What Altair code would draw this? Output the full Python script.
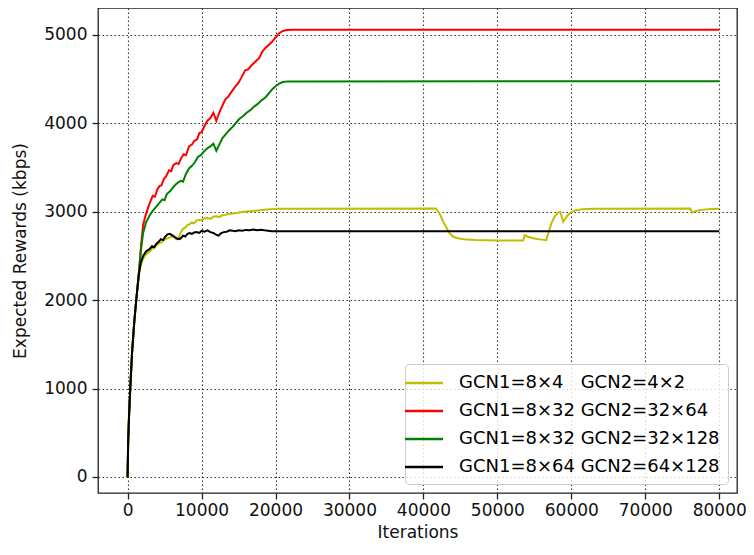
import altair as alt
import pandas as pd

labels = ["GCN1=8×4\u00a0\u00a0\u00a0GCN2=4×2", "GCN1=8×32 GCN2=32×64",
          "GCN1=8×32 GCN2=32×128", "GCN1=8×64 GCN2=64×128"]
colors = ["#bfbf00", "#ff0000", "#008000", "#000000"]

x_ticks = [0, 10000, 20000, 30000, 40000, 50000, 60000, 70000, 80000]
y_ticks = [0, 1000, 2000, 3000, 4000, 5000]

# shared initial rise
start_x = [0, 80, 200, 360, 600, 900, 1170, 1500]
start_y = [0, 400, 700, 1000, 1400, 1750, 2000, 2280]

yellow_x = [1800, 2100, 2500, 3000, 3300, 3600, 3900, 4200, 4500, 4800, 5100, 5400, 5700, 6000,
            6300, 6600, 6900, 7200, 7500, 7800, 8100, 8400, 8700, 9000, 9300, 9700, 10000, 10400,
            10800, 11200, 11600, 12000, 12400, 12800, 13200, 13700, 14200, 14700, 15200, 15800,
            16400, 17000, 17600, 18200, 18800, 19500, 20500, 41700, 42000, 42300, 42600, 43000,
            43500, 44000, 44600, 45500, 47000, 50000, 53500, 53700, 54200, 55000, 56000, 56600,
            56900, 57300, 57700, 58200, 58500, 58900, 59400, 59900, 60600, 61500, 63000, 76100,
            76300, 76700, 77300, 78500, 80000]
yellow_y = [2400, 2470, 2520, 2550, 2580, 2590, 2620, 2640, 2650, 2670, 2690, 2700, 2710, 2720,
            2710, 2690, 2700, 2770, 2810, 2820, 2850, 2860, 2880, 2870, 2900, 2910, 2905, 2925,
            2930, 2920, 2945, 2950, 2940, 2960, 2965, 2975, 2980, 2985, 2995, 3000,
            3005, 3010, 3015, 3020, 3025, 3030, 3035, 3036, 3000, 2960, 2900, 2840,
            2760, 2720, 2700, 2688, 2680, 2676, 2676, 2735, 2715, 2697, 2685, 2680,
            2760, 2870, 2940, 2990, 3000, 2885, 2950, 2990, 3018, 3028, 3033, 3036,
            2990, 3005, 3018, 3030, 3035]

red_x = [1800, 2100, 2500, 3000, 3400, 3700, 4000, 4300, 4600, 4900, 5200, 5600, 5900, 6200, 6600,
         6900, 7200, 7600, 7900, 8300, 8700, 9000, 9400, 9700, 10000, 10400, 10800, 11200, 11600,
         12000, 12300, 12700, 13200, 13600, 14000, 14500, 15000, 15400, 15900, 16300, 16800,
         17300, 17800, 18200, 18600, 19000, 19500, 20000, 20500, 21000, 21500, 22500, 80000]
red_y = [2600, 2850, 2980, 3100, 3180, 3170, 3250, 3290, 3300, 3370, 3400, 3470, 3460, 3530, 3550,
         3540, 3600, 3650, 3640, 3740, 3760, 3800, 3820, 3890, 3900, 3970, 4030, 4060, 4120,
         4030, 4100, 4180, 4270, 4300, 4350, 4410, 4460, 4520, 4600, 4610, 4660,
         4700, 4740, 4810, 4850, 4880, 4920, 4970, 5020, 5045, 5055, 5058, 5058]

green_x = [1800, 2100, 2500, 3000, 3400, 3800, 4300, 4700, 5000, 5300, 5700, 6000, 6400, 6800, 7200,
           7500, 7900, 8300, 8700, 9100, 9500, 9900, 10300, 10800, 11200, 11600, 12000, 12400,
           12800, 13200, 13700, 14200, 14700, 15100, 15600, 16100, 16600, 17100, 17600, 18100,
           18600, 19100, 19600, 20000, 20500, 21000, 21700, 80000]
green_y = [2560, 2760, 2880, 2960, 3010, 3050, 3100, 3140, 3130, 3200, 3230, 3260, 3300, 3330, 3350,
           3340, 3430, 3490, 3520, 3560, 3620, 3640, 3680, 3720, 3740, 3770, 3690, 3760,
           3830, 3870, 3920, 3960, 4010, 4050, 4080, 4120, 4150, 4190, 4220, 4260,
           4290, 4340, 4390, 4420, 4450, 4468, 4475, 4476]

black_x = [1800, 2100, 2500, 3000, 3300, 3600, 3900, 4200, 4500, 4800, 5100, 5400, 5700, 6000, 6300,
           6600, 6900, 7200, 7500, 7800, 8100, 8400, 8700, 9000, 9300, 9700, 10000, 10400, 10800,
           11200, 11600, 12000, 12300, 12600, 13000, 13400, 13800, 14200, 14600, 15000, 15500,
           16000, 16500, 17000, 17500, 18000, 18500, 19000, 19500, 80000]
black_y = [2430, 2500, 2550, 2580, 2610, 2600, 2640, 2660, 2690, 2680, 2720, 2745, 2750, 2735, 2720,
           2700, 2690, 2700, 2730, 2720, 2750, 2760, 2750, 2765, 2770, 2760, 2785, 2775, 2790,
           2770, 2760, 2740, 2730, 2755, 2770, 2775, 2790, 2785, 2780, 2790, 2785,
           2795, 2790, 2800, 2790, 2797, 2790, 2785, 2780, 2780]

series = [(yellow_x, yellow_y), (red_x, red_y), (green_x, green_y), (black_x, black_y)]
rows = []
for lab, (xs, ys) in zip(labels, series):
    for i, (xv, yv) in enumerate(zip(start_x + xs, start_y + ys)):
        rows.append({"x": xv, "y": yv, "s": lab, "i": i})
df = pd.DataFrame(rows)

font = "DejaVu Sans"

xenc = alt.X("x:Q", scale=alt.Scale(domain=[-4000, 82400], nice=False, zero=False),
             axis=alt.Axis(values=x_ticks, format="d", title="Iterations", titlePadding=6,
                           labelPadding=3))
yenc = alt.Y("y:Q", scale=alt.Scale(domain=[-181, 5305], nice=False, zero=False),
             axis=alt.Axis(values=y_ticks, format="d", title="Expected Rewards (kbps)",
                           titlePadding=14, labelPadding=5))
cenc = alt.Color("s:N", scale=alt.Scale(domain=labels, range=colors),
                 legend=alt.Legend(title=None, orient="bottom-right", offset=9,
                                   symbolType="M-2,0H2", symbolSize=361, symbolStrokeWidth=2.5,
                                   labelFontSize=18, labelFont=font, labelOffset=24,
                                   rowPadding=8, padding=8, strokeColor="#cccccc",
                                   fillColor="rgba(255,255,255,0.8)", cornerRadius=4,
                                   labelLimit=400))

layers = []
for lab in labels:
    layers.append(
        alt.Chart(df).transform_filter(alt.datum.s == lab)
        .mark_line(strokeWidth=2, clip=True)
        .encode(x=xenc, y=yenc, color=cenc, order="i:Q")
    )

chart = alt.layer(*layers).properties(
    width=639, height=485, autosize="none",
    padding={"left": 90, "top": 0, "right": 9, "bottom": 50},
).configure(font=font).configure_view(
    stroke="#222222", strokeWidth=1.3
).configure_axis(
    labelFont=font, titleFont=font, labelFontSize=17, titleFontSize=17,
    labelColor="#111111", titleColor="#111111", titleFontWeight="normal",
    domain=False, tickColor="#222222", tickSize=6, tickWidth=1.3,
    grid=True, gridColor="#333333", gridDash=[1.5, 2.5], gridWidth=1.1, gridOpacity=1,
)

chart.save("out.html", embed_options={"renderer": "svg", "actions": False})
